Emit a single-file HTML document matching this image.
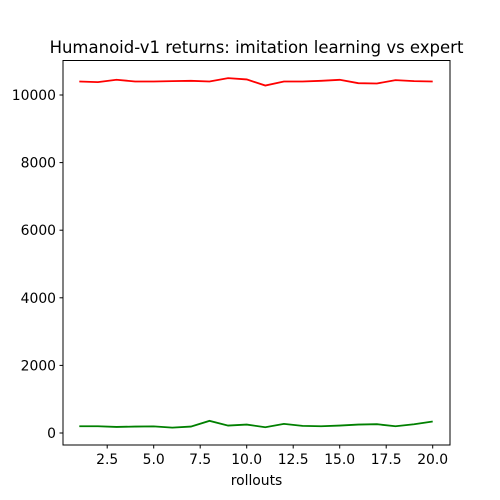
<!DOCTYPE html>
<html><head><style>body{margin:0;background:#fff}svg{display:block;font-family:"DejaVu Sans","Liberation Sans",sans-serif}</style></head>
<body>
<svg id="c" width="500" height="500">
<rect x="0" y="0" width="500" height="500" fill="#fff"/>
<text x="256.5" y="53" font-size="16.5" text-anchor="middle">Humanoid-v1 returns: imitation learning vs expert</text>
<text x="256.5" y="485" font-size="13.9" text-anchor="middle">rollouts</text>
<g id="ax"></g>
<rect x="63" y="60.5" width="387" height="384.5" fill="none" stroke="#000" stroke-width="1"/>
</svg>
<script>
const rollouts=[1,2,3,4,5,6,7,8,9,10,11,12,13,14,15,16,17,18,19,20];
const expert=[10400,10380,10450,10400,10400,10410,10420,10400,10500,10460,10280,10400,10400,10420,10450,10350,10340,10440,10410,10400];
const imitation=[200,200,180,190,195,160,190,360,220,250,170,270,210,200,220,250,260,200,260,340];
const xTicks=[2.5,5.0,7.5,10.0,12.5,15.0,17.5,20.0];
const yTicks=[0,2000,4000,6000,8000,10000];
const NS='http://www.w3.org/2000/svg';
const g=document.getElementById('ax');
function X(v){return 79.3+(v-1)*18.6;}
function Y(v){return 433-v*0.0338;}
function el(t,a){const e=document.createElementNS(NS,t);for(const k in a)e.setAttribute(k,a[k]);g.appendChild(e);return e;}
xTicks.forEach(v=>{
  const l=el('line',{x1:X(v),x2:X(v),y1:445,y2:448.5,stroke:'#000'});
  
  
  const t=el('text',{x:X(v),y:464,'font-size':13.9,'text-anchor':'middle'});
  t.textContent=v.toFixed(1);
  
  
});
yTicks.forEach(v=>{
  const l=el('line',{x1:59.5,x2:63,y1:Y(v),y2:Y(v),stroke:'#000'});
  
  
  const t=el('text',{x:56,y:Y(v)+5,'font-size':13.9,'text-anchor':'end'});
  t.textContent=v;
  
  
});
function line(data,color,name){
  const p=el('polyline',{points:rollouts.map((r,i)=>X(r)+','+Y(data[i])).join(' '),fill:'none',stroke:color,'stroke-width':1.8});
  
  
}
line(expert,'#ff0000','expert-line');
line(imitation,'#008000','imitation-line');
</script>
</body></html>
